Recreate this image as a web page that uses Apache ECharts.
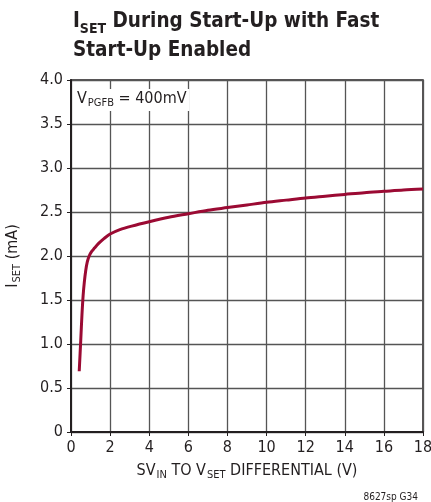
<!DOCTYPE html>
<html>
<head>
<meta charset="utf-8">
<script src="https://cdn.jsdelivr.net/npm/echarts@6/dist/echarts.min.js"></script>
<style>
  html, body { margin: 0; padding: 0; background: #fff; }
  #chart { width: 431px; height: 502px; }
</style>
</head>
<body>
<div id="chart"></div>
<script>
// I_SET vs SV_IN-to-V_SET differential
var diffVolts = [0.42, 0.50, 0.56, 0.62, 0.68, 0.75, 0.83, 0.93, 1.05, 1.2, 1.4, 1.7, 2.0, 2.5, 3.1, 4, 5, 6, 7, 8, 9, 10, 11, 12, 13, 14, 15, 16, 17, 18];
var isetMA = [0.69, 1.05, 1.33, 1.55, 1.70, 1.83, 1.93, 2.00, 2.05, 2.09, 2.14, 2.20, 2.25, 2.30, 2.34, 2.39, 2.44, 2.48, 2.52, 2.55, 2.58, 2.61, 2.635, 2.66, 2.68, 2.70, 2.72, 2.735, 2.75, 2.76];

var FONT = "'Liberation Sans Narrow', 'DejaVu Sans Condensed', sans-serif";
var INK = '#231f20';

var points = [];
for (var i = 0; i < diffVolts.length; i++) {
  points.push([diffVolts[i], isetMA[i]]);
}

// shared styles for text with subscripts
var subRich = {
  n: { fontFamily: FONT, fontSize: 16, fontWeight: 'normal', color: INK, lineHeight: 20 },
  s: { fontFamily: FONT, fontSize: 11, fontWeight: 'normal', color: INK, lineHeight: 20, verticalAlign: 'bottom', padding: [7, 0, 0, 1] }
};

var myChart = echarts.init(document.getElementById('chart'));

var option = {
  backgroundColor: '#fff',
  animation: false,
  title: [
    {
      left: 68, top: 2,
      text: '{b|I}{s|SET}{b| During Start-Up with Fast}\n{b|Start-Up Enabled}',
      textStyle: {
        rich: {
          b: { fontFamily: FONT, fontWeight: 'bold', fontSize: 20.5, color: INK, lineHeight: 29 },
          s: { fontFamily: FONT, fontWeight: 'bold', fontSize: 14, color: INK, lineHeight: 29, verticalAlign: 'bottom', padding: [9, 0, 0, 0] }
        }
      }
    },
    {
      left: 74, top: 87,
      text: '{n|V}{s|PGFB}{n| = 400mV}',
      backgroundColor: '#fff',
      padding: [2, 3, 2, 3],
      textStyle: { rich: subRich }
    },
    {
      right: 8, top: 487,
      text: '8627sp G34',
      textStyle: { fontFamily: FONT, fontSize: 10, fontWeight: 'normal', color: INK }
    }
  ],
  grid: {
    left: 71, right: 8, top: 80, bottom: 70,
    outerBoundsMode: 'none',
    containLabel: false,
    show: true,
    borderColor: INK,
    borderWidth: 1.5
  },
  xAxis: {
    type: 'value',
    min: 0, max: 18, interval: 2,
    name: '{n|SV}{s|IN}{n| TO V}{s|SET}{n| DIFFERENTIAL (V)}',
    nameLocation: 'middle',
    nameGap: 29,
    nameTextStyle: { rich: subRich },
    axisLine: { show: true, lineStyle: { color: INK, width: 2 } },
    axisTick: { show: true, length: 4, lineStyle: { color: INK } },
    axisLabel: { fontFamily: FONT, fontSize: 16, color: INK, margin: 8 },
    splitLine: { show: true, lineStyle: { color: '#555', width: 1.3 } }
  },
  yAxis: {
    type: 'value',
    min: 0, max: 4, interval: 0.5,
    name: '{n|I}{s|SET}{n| (mA)}',
    nameLocation: 'middle',
    nameRotate: 90,
    nameGap: 48,
    nameTextStyle: { rich: subRich },
    axisLine: { show: true, lineStyle: { color: INK, width: 2 } },
    axisTick: { show: true, length: 4, lineStyle: { color: INK } },
    axisLabel: {
      fontFamily: FONT, fontSize: 16, color: INK, margin: 8,
      formatter: function (v) { return v === 0 ? '0' : v.toFixed(1); }
    },
    splitLine: { show: true, lineStyle: { color: '#555', width: 1.3 } }
  },
  series: [
    {
      type: 'line',
      data: points,
      smooth: 0.3,
      showSymbol: false,
      lineStyle: { color: '#9b0a33', width: 3 }
    }
  ]
};

myChart.setOption(option, true);
</script>
</body>
</html>
